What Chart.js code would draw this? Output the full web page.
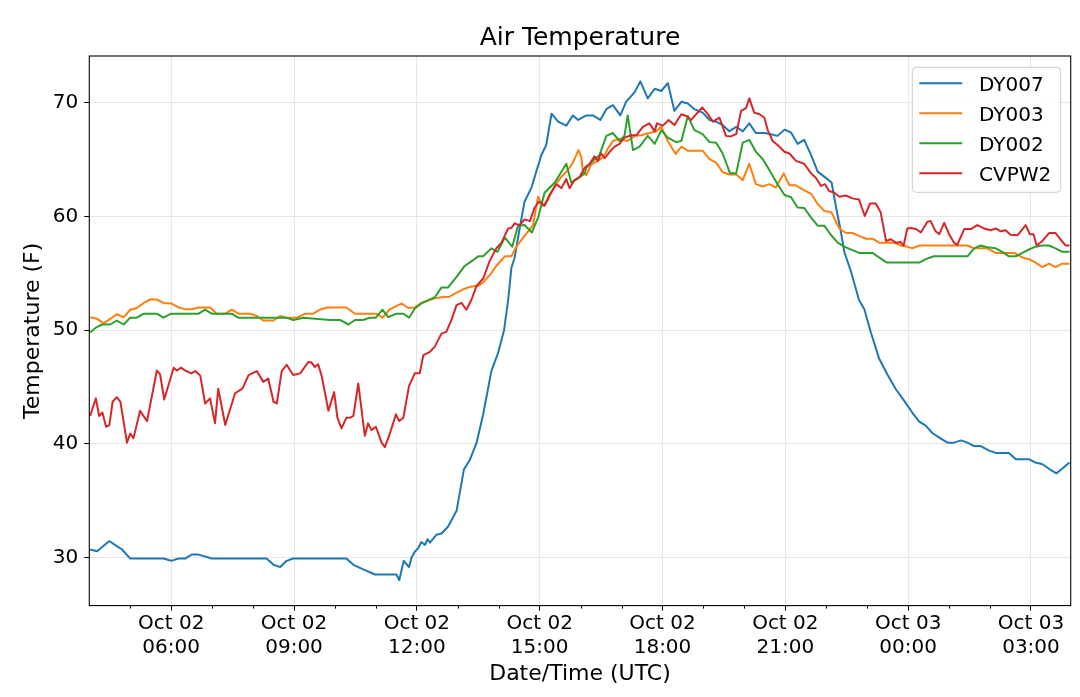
<!DOCTYPE html>
<html>
<head>
<meta charset="utf-8">
<title>Air Temperature</title>
<script src="https://cdn.jsdelivr.net/npm/chart.js@4.4.1/dist/chart.umd.min.js"></script>
<style>
    html, body { margin: 0; padding: 0; background: #fff; }
    #wrap { width: 1080px; height: 697px; }
</style>
</head>
<body>
<div id="wrap"><canvas id="airTempChart" width="1080" height="697"></canvas></div>
<script>
// Horas desde Oct 02 00:00 UTC (24 = Oct 03 00:00)
const dy007Hours = [4.02, 4.19, 4.49, 4.67, 4.80, 5.00, 5.81, 6.00, 6.18, 6.34, 6.50, 6.67, 6.99,
    8.33, 8.50, 8.66, 8.82, 8.98, 10.28, 10.45, 10.69, 10.98, 11.50, 11.57, 11.68, 11.75, 11.81, 11.87, 11.95,
    12.03, 12.11, 12.20, 12.26, 12.32, 12.40, 12.48, 12.60, 12.76, 12.97, 13.15, 13.29, 13.46, 13.62, 13.82,
    13.98, 14.13, 14.23, 14.31, 14.39, 14.51, 14.63, 14.80, 14.92, 15.04, 15.16, 15.29, 15.45, 15.65, 15.81, 15.94,
    16.14, 16.30, 16.48, 16.63, 16.79, 16.97, 17.11, 17.32, 17.46, 17.64, 17.81, 17.97, 18.13, 18.29, 18.46,
    18.62, 18.78, 18.98, 19.15, 19.31, 19.47, 19.63, 19.80, 19.96,
    20.12, 20.28, 20.49, 20.65, 20.81, 20.98, 21.14, 21.30, 21.46, 21.63, 21.79, 21.99, 22.13, 22.24, 22.36,
    22.44, 22.60, 22.80, 22.93, 23.09, 23.29, 23.50, 23.70, 23.90,
    24.10, 24.27, 24.43, 24.59, 24.76, 24.96, 25.12, 25.29, 25.45, 25.61, 25.77, 25.98, 26.14, 26.46, 26.63,
    26.95, 27.11, 27.28, 27.44, 27.62, 27.76, 27.94];
const dy007Temps = [30.7, 30.55, 31.45, 31.0, 30.7, 29.9, 29.9, 29.7, 29.9, 29.9, 30.25, 30.25, 29.9,
    29.9, 29.35, 29.15, 29.7, 29.9, 29.9, 29.35, 28.95, 28.5, 28.5, 28.0, 29.7, 29.4, 29.15, 30.0, 30.5,
    30.8, 31.35, 31.1, 31.6, 31.3, 31.65, 32.0, 32.1, 32.7, 34.1, 37.75, 38.55, 40.1, 42.6, 46.4,
    47.95, 50.0, 52.65, 55.5, 56.4, 58.95, 61.3, 62.55, 64.0, 65.4, 66.3, 69.05, 68.35, 68.0, 68.9, 68.5,
    68.9, 68.9, 68.5, 69.45, 69.8, 68.9, 70.1, 70.95, 71.9, 70.4, 71.25, 71.05, 71.75, 69.3, 70.1,
    69.95, 69.45, 69.15, 68.5, 68.35, 68.05, 67.5, 67.9, 67.5,
    68.2, 67.35, 67.35, 67.25, 67.1, 67.65, 67.4, 66.4, 66.75, 65.4, 63.95, 63.4, 63.0, 60.8, 58.6,
    56.9, 55.2, 52.65, 51.85, 49.8, 47.5, 46.05, 44.8, 43.8,
    42.75, 41.95, 41.6, 40.95, 40.55, 40.1, 40.1, 40.3, 40.1, 39.8, 39.8, 39.4, 39.2, 39.2, 38.65,
    38.65, 38.35, 38.2, 37.8, 37.4, 37.8, 38.35];

const dy003Hours = [4.02, 4.19, 4.35, 4.51, 4.67, 4.84, 5.00, 5.16, 5.33, 5.49, 5.65, 5.81, 6.00, 6.18, 6.34,
    6.50, 6.67, 6.95, 7.11, 7.32, 7.48, 7.64, 7.93, 8.09, 8.25, 8.50, 8.66, 8.82, 9.07, 9.27, 9.47, 9.63, 9.80,
    10.28, 10.49, 11.02, 11.16, 11.33, 11.63, 11.79, 11.95,
    12.11, 12.28, 12.44, 12.60, 12.80, 12.97, 13.17, 13.33, 13.50, 13.62, 13.78, 13.94, 14.15, 14.31, 14.43,
    14.63, 14.84, 14.96, 15.08, 15.20, 15.37, 15.53, 15.69, 15.81, 15.95, 16.02,
    16.06, 16.14, 16.26, 16.42, 16.55, 16.67, 16.79, 16.95, 17.15, 17.32, 17.48, 17.68, 17.85, 17.97, 18.13,
    18.32, 18.46, 18.62, 18.98, 19.15, 19.31, 19.47, 19.63, 19.80, 19.96,
    20.12, 20.28, 20.45, 20.61, 20.77, 20.96, 21.10, 21.26, 21.42, 21.63, 21.79, 21.95, 22.13, 22.32, 22.48,
    22.64, 22.80, 22.97, 23.13, 23.29, 23.50, 23.66, 23.82, 23.98,
    24.10, 24.27, 24.63, 25.45, 25.61, 25.93, 26.14, 26.59, 26.79, 26.95, 27.11, 27.28, 27.44, 27.60, 27.76, 27.94];
const dy003Temps = [51.15, 51.0, 50.6, 51.0, 51.4, 51.15, 51.8, 51.95, 52.4, 52.7, 52.7, 52.4, 52.35, 52.0, 51.85,
    51.85, 52.0, 52.0, 51.45, 51.45, 51.8, 51.45, 51.45, 51.25, 50.85, 50.85, 51.25, 51.1, 51.1, 51.45, 51.45, 51.8, 52.0,
    52.0, 51.45, 51.45, 51.1, 51.8, 52.35, 51.95, 52.0,
    52.4, 52.6, 52.8, 52.9, 52.95, 53.3, 53.65, 53.85, 53.9, 54.2, 54.85, 55.65, 56.5, 56.5, 57.35,
    58.3, 59.25, 61.75, 60.95, 61.45, 62.75, 63.5, 64.1, 64.75, 65.85, 65.2,
    63.8, 63.65, 64.6, 64.9, 65.2, 66.0, 66.65, 66.85, 66.65, 67.1, 67.15, 67.35, 67.5, 67.9, 66.65,
    65.5, 66.15, 65.8, 65.8, 65.05, 64.75, 63.9, 63.7, 63.7, 63.2,
    64.65, 62.85, 62.65, 62.85, 62.55, 63.8, 62.75, 62.75, 62.4, 62.0, 61.1, 60.5, 60.35, 58.95, 58.55,
    58.55, 58.3, 58.05, 58.05, 57.7, 57.7, 57.7, 57.45, 57.35,
    57.2, 57.45, 57.45, 57.45, 57.2, 57.2, 56.8, 56.8, 56.4, 56.25, 55.95, 55.55, 55.85, 55.55, 55.85, 55.85];

const dy002Hours = [4.02, 4.15, 4.31, 4.51, 4.67, 4.84, 5.00, 5.16, 5.33, 5.65, 5.81, 6.00, 6.67, 6.83, 6.99,
    7.48, 7.64, 8.82, 8.98, 9.23, 9.88, 10.12, 10.33, 10.49, 10.69, 10.85, 11.00, 11.16, 11.30, 11.50, 11.67,
    11.81, 11.95,
    12.11, 12.28, 12.44, 12.60, 12.76, 12.97, 13.17, 13.33, 13.50, 13.62, 13.82, 13.97, 14.15, 14.33, 14.47,
    14.63, 14.81, 14.96, 15.12, 15.37, 15.65, 15.77, 15.94,
    16.10, 16.14, 16.30, 16.46, 16.63, 16.79, 16.95, 17.07, 17.15, 17.28, 17.44, 17.64, 17.81, 17.97, 18.13,
    18.33, 18.46, 18.62, 18.78, 18.98, 19.15, 19.31, 19.47, 19.65, 19.80, 19.96,
    20.12, 20.28, 20.45, 20.61, 20.81, 20.98, 21.14, 21.30, 21.46, 21.63, 21.79, 21.95, 22.11, 22.28, 22.44,
    22.64, 22.80, 23.13, 23.29, 23.48,
    24.27, 24.43, 24.63, 25.45, 25.61, 25.77, 25.93, 26.14, 26.34, 26.46, 26.63, 26.79, 26.95, 27.11, 27.28,
    27.44, 27.60, 27.76, 27.94];
const dy002Temps = [49.8, 50.2, 50.5, 50.5, 50.85, 50.5, 51.1, 51.1, 51.45, 51.45, 51.1, 51.45, 51.45, 51.8, 51.45,
    51.45, 51.1, 51.1, 50.9, 51.1, 50.9, 50.9, 50.5, 50.9, 50.9, 51.1, 51.1, 51.8, 51.15, 51.45, 51.45,
    51.1, 51.9,
    52.35, 52.65, 52.9, 53.75, 53.75, 54.7, 55.65, 56.05, 56.5, 56.5, 57.2, 56.9, 58.15, 57.35, 59.2,
    59.25, 58.6, 59.9, 62.1, 63.0, 64.65, 63.0, 63.35,
    63.8, 64.3, 64.9, 65.4, 67.1, 67.35, 66.65, 67.1, 68.9, 65.85, 66.15, 67.1, 66.4, 67.6, 66.95,
    66.55, 66.65, 68.85, 67.6, 67.25, 66.55, 66.5, 65.55, 63.8, 63.8, 66.5,
    66.75, 65.7, 65.05, 64.1, 62.85, 61.9, 61.7, 60.8, 60.75, 59.9, 59.2, 59.2, 58.4, 57.7, 57.35,
    57.05, 56.8, 56.8, 56.4, 55.95,
    55.95, 56.25, 56.5, 56.5, 57.2, 57.45, 57.3, 57.2, 56.8, 56.5, 56.5, 56.8, 57.1, 57.35, 57.45,
    57.45, 57.2, 56.9, 56.9];

const cvpw2Hours = [4.02, 4.16, 4.24, 4.32, 4.41, 4.49, 4.57, 4.67, 4.76, 4.92, 5.00, 5.08, 5.24, 5.41, 5.65,
    5.73, 5.83, 6.06, 6.14, 6.24, 6.34, 6.49, 6.59, 6.71, 6.83, 6.95, 7.07, 7.15, 7.32, 7.56, 7.74, 7.89,
    8.09, 8.25, 8.37, 8.50, 8.58, 8.70, 8.82, 8.98, 9.15, 9.35, 9.43, 9.51, 9.59, 9.68, 9.84, 9.98, 10.06,
    10.16, 10.28, 10.37, 10.45, 10.57, 10.73, 10.81, 10.89, 11.00, 11.14, 11.22, 11.34, 11.49, 11.57, 11.67,
    11.81, 11.95,
    12.07, 12.16, 12.32, 12.44, 12.60, 12.72, 12.85, 12.97, 13.09, 13.21, 13.33, 13.46, 13.62, 13.78, 13.94,
    14.07, 14.23, 14.31, 14.39, 14.51, 14.63, 14.76, 14.88, 14.98, 15.12, 15.24, 15.41, 15.53, 15.65, 15.73,
    15.85, 15.98,
    16.10, 16.22, 16.34, 16.42, 16.50, 16.59, 16.71, 16.83, 16.95, 17.07, 17.24, 17.36, 17.52, 17.68, 17.81,
    17.86, 18.01, 18.15, 18.29, 18.46, 18.58, 18.70, 18.82, 18.97, 19.11, 19.23, 19.39, 19.55, 19.67, 19.80,
    19.92, 20.04,
    20.12, 20.24, 20.37, 20.49, 20.57, 20.69, 20.81, 20.98, 21.10, 21.26, 21.46, 21.63, 21.75, 21.87, 21.97,
    22.07, 22.20, 22.32, 22.48, 22.64, 22.80, 22.94, 23.07, 23.21, 23.33, 23.46, 23.58, 23.70, 23.82, 23.89,
    23.98, 24.06, 24.19, 24.31, 24.47, 24.55, 24.67, 24.76, 24.88, 25.00, 25.12, 25.20, 25.37, 25.53, 25.69,
    25.85, 26.02, 26.14, 26.26, 26.38, 26.50, 26.67, 26.87, 26.97, 27.06, 27.14, 27.28, 27.44, 27.60, 27.72,
    27.85, 27.94];
const cvpw2Temps = [42.45, 44.0, 42.45, 42.75, 41.5, 41.65, 43.7, 44.1, 43.7, 40.1, 40.9, 40.5, 42.9, 42.0, 46.45,
    46.1, 43.9, 46.7, 46.45, 46.7, 46.45, 46.2, 46.4, 46.0, 43.55, 44.0, 41.8, 44.85, 41.65, 44.45, 44.85, 46.05,
    46.4, 45.45, 45.75, 43.7, 43.55, 46.4, 46.95, 46.05, 46.2, 47.2, 47.15, 46.75, 47.0, 45.9, 42.9, 44.55, 42.3,
    41.35, 42.3, 42.3, 42.45, 45.3, 40.7, 41.8, 41.2, 41.5, 40.1, 39.7, 40.9, 42.6, 42.0, 42.3,
    45.1, 46.2,
    46.2, 47.8, 48.1, 48.55, 49.7, 49.85, 50.95, 52.2, 52.4, 51.8, 52.65, 53.9, 54.55, 56.1, 57.2,
    57.7, 58.95, 59.0, 59.4, 59.25, 59.75, 59.6, 60.8, 61.3, 60.95, 61.9, 62.85, 62.5, 63.3, 62.5,
    63.2, 63.5,
    64.3, 64.65, 65.3, 64.9, 65.55, 65.15, 65.7, 66.15, 66.4, 66.95, 67.15, 67.15, 67.9, 68.2, 67.5,
    68.2, 68.0, 68.5, 68.05, 69.0, 68.85, 68.5, 69.0, 69.6, 69.0, 68.35, 68.7, 67.1, 67.05, 67.25,
    69.3, 69.55,
    70.4, 69.15, 69.0, 68.7, 67.6, 66.65, 66.3, 65.7, 65.55, 64.9, 64.65, 63.8, 63.4, 62.7, 62.85,
    62.25, 62.1, 61.75, 61.85, 61.6, 61.5, 60.05, 61.15, 61.15, 60.35, 57.85, 58.0, 57.7, 57.75, 57.45,
    58.95, 59.0, 58.9, 58.6, 59.55, 59.6, 58.7, 58.45, 59.45, 58.45, 57.7, 57.5, 58.9, 58.9, 59.25,
    58.95, 58.8, 58.95, 58.7, 58.8, 58.4, 58.35, 59.25, 58.45, 58.45, 57.45, 57.85, 58.55, 58.55, 58.0,
    57.45, 57.45];

// Ejes
const xTickHours = [6, 9, 12, 15, 18, 21, 24, 27];
const xTickLabels = [['Oct 02', '06:00'], ['Oct 02', '09:00'], ['Oct 02', '12:00'], ['Oct 02', '15:00'],
    ['Oct 02', '18:00'], ['Oct 02', '21:00'], ['Oct 03', '00:00'], ['Oct 03', '03:00']];
const xMinorHours = [5, 7, 8, 10, 11, 13, 14, 16, 17, 19, 20, 22, 23, 25, 26];
const yTickValues = [30, 40, 50, 60, 70];

const FONT = '"DejaVu Sans", "Liberation Sans", sans-serif';

function toPoints(hours, temps) {
    return hours.map((h, i) => ({ x: h, y: temps[i] }));
}

// Marco completo (4 lados) y ticks menores del eje X
const framePlugin = {
    id: 'frame',
    afterDatasetsDraw(chart) {
        const { ctx, chartArea: a } = chart;
        const xs = chart.scales.x;
        ctx.save();
        ctx.strokeStyle = '#000';
        ctx.lineWidth = 1;
        xMinorHours.forEach(h => {
            const px = Math.round(xs.getPixelForValue(h)) + 0.5;
            ctx.beginPath();
            ctx.moveTo(px, a.bottom);
            ctx.lineTo(px, a.bottom + 3);
            ctx.stroke();
        });
        ctx.lineWidth = 1.1;
        ctx.strokeRect(a.left, a.top, a.right - a.left, a.bottom - a.top);
        ctx.restore();
    }
};

// Leyenda dentro del área del gráfico (arriba a la derecha)
const legendPlugin = {
    id: 'insideLegend',
    afterDraw(chart) {
        const { ctx, chartArea: a } = chart;
        const w = 148.4, h = 125;
        const left = a.right - 10 - w;
        const top = a.top + 11.3;
        ctx.save();
        ctx.beginPath();
        ctx.roundRect(left, top, w, h, 4);
        ctx.fillStyle = 'rgba(255,255,255,0.8)';
        ctx.fill();
        ctx.strokeStyle = '#cccccc';
        ctx.lineWidth = 1;
        ctx.stroke();

        ctx.font = '20px ' + FONT;
        ctx.textAlign = 'left';
        ctx.textBaseline = 'alphabetic';
        chart.data.datasets.forEach((ds, i) => {
            const y = top + 16 + i * 30;
            ctx.strokeStyle = ds.borderColor;
            ctx.lineWidth = 2;
            ctx.beginPath();
            ctx.moveTo(left + 7, y);
            ctx.lineTo(left + 50, y);
            ctx.stroke();
            ctx.fillStyle = '#000';
            ctx.fillText(ds.label, left + 66.7, y + 7.5);
        });
        ctx.restore();
    }
};

function crearDataset(label, hours, temps, color, order) {
    return {
        label: label,
        data: toPoints(hours, temps),
        borderColor: color,
        backgroundColor: color,
        borderWidth: 2,
        borderJoinStyle: 'round',
        pointRadius: 0,
        tension: 0,
        fill: false,
        order: order
    };
}

const ctx = document.getElementById('airTempChart').getContext('2d');
new Chart(ctx, {
    type: 'line',
    data: {
        datasets: [
            crearDataset('DY007', dy007Hours, dy007Temps, '#1f77b4', 3),
            crearDataset('DY003', dy003Hours, dy003Temps, '#ff7f0e', 2),
            crearDataset('DY002', dy002Hours, dy002Temps, '#2ca02c', 1),
            crearDataset('CVPW2', cvpw2Hours, cvpw2Temps, '#d62728', 0)
        ]
    },
    options: {
        responsive: false,
        animation: false,
        layout: { padding: { left: 0, right: 9.3, top: 0, bottom: 0 } },
        plugins: {
            legend: { display: false },
            tooltip: { enabled: false },
            title: {
                display: true,
                text: 'Air Temperature',
                fullSize: false,
                color: '#000',
                font: { family: FONT, size: 25, weight: 'normal', lineHeight: 1.2 },
                padding: { top: 23.5, bottom: 2.5 }
            }
        },
        scales: {
            x: {
                type: 'linear',
                min: 4.0,
                max: 27.97,
                afterBuildTicks: (scale) => { scale.ticks = xTickHours.map(v => ({ value: v })); },
                afterFit: (scale) => { scale.height = 91.4; },
                border: { display: false },
                grid: { color: '#e6e6e6', lineWidth: 1, tickColor: '#000', tickLength: 5 },
                ticks: {
                    autoSkip: false,
                    maxRotation: 0,
                    padding: 2,
                    color: '#000',
                    font: { family: FONT, size: 20, lineHeight: 1.165 },
                    callback: (value, index) => xTickLabels[index]
                },
                title: {
                    display: true,
                    text: 'Date/Time (UTC)',
                    color: '#000',
                    font: { family: FONT, size: 22, lineHeight: 1.2 },
                    padding: { top: 0, bottom: 10 }
                }
            },
            y: {
                type: 'linear',
                min: 25.76,
                max: 74.13,
                afterBuildTicks: (scale) => { scale.ticks = yTickValues.map(v => ({ value: v })); },
                afterFit: (scale) => { scale.width = 89.3; },
                border: { display: false },
                grid: { color: '#e6e6e6', lineWidth: 1, tickColor: '#000', tickLength: 5 },
                ticks: {
                    padding: 6,
                    color: '#000',
                    font: { family: FONT, size: 20 },
                    callback: (value) => value
                },
                title: {
                    display: true,
                    text: 'Temperature (F)',
                    color: '#000',
                    font: { family: FONT, size: 22, lineHeight: 1.2 },
                    padding: { top: 20.5, bottom: 0 }
                }
            }
        }
    },
    plugins: [framePlugin, legendPlugin]
});
</script>
</body>
</html>
